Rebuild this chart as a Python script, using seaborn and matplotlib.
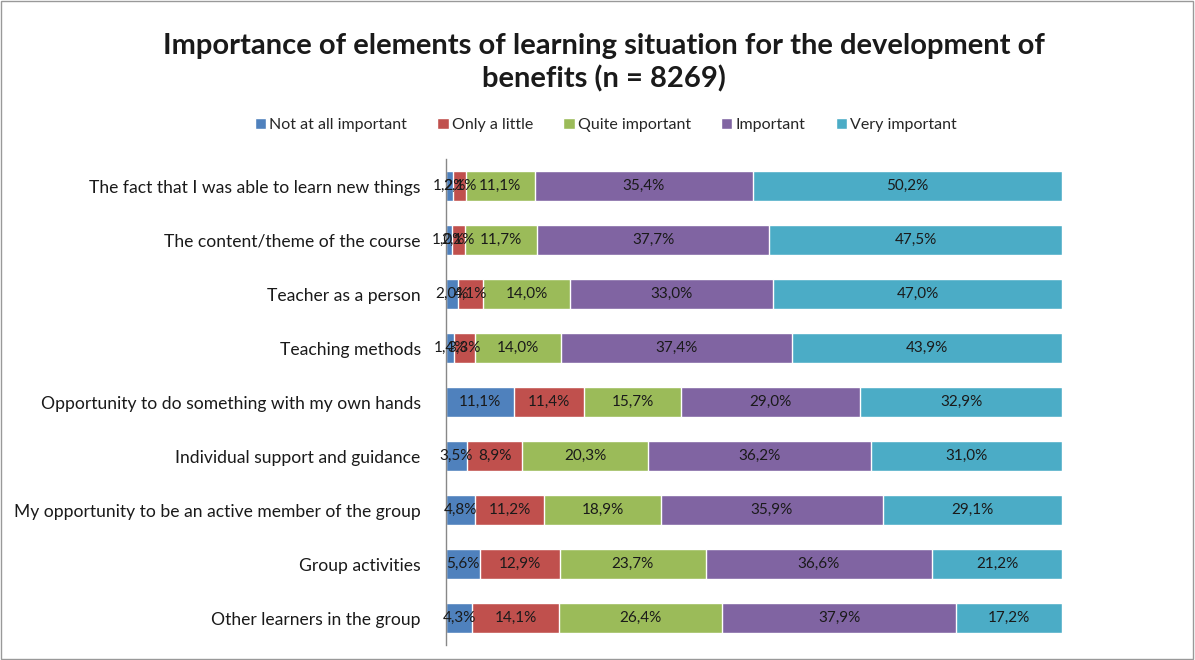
import matplotlib
matplotlib.use("Agg")
import matplotlib.pyplot as plt
import seaborn as sns
import numpy as np
import pandas as pd
from matplotlib.patches import Rectangle

categories = [
    "The fact that I was able to learn new things",
    "The content/theme of the course",
    "Teacher as a person",
    "Teaching methods",
    "Opportunity to do something with my own hands",
    "Individual support and guidance",
    "My opportunity to be an active member of the group",
    "Group activities",
    "Other learners in the group",
]
series_names = ["Not at all important", "Only a little", "Quite important", "Important", "Very important"]
not_at_all = [1.2, 1.0, 2.0, 1.4, 11.1, 3.5, 4.8, 5.6, 4.3]
only_little = [2.1, 2.1, 4.1, 3.3, 11.4, 8.9, 11.2, 12.9, 14.1]
quite = [11.1, 11.7, 14.0, 14.0, 15.7, 20.3, 18.9, 23.7, 26.4]
important = [35.4, 37.7, 33.0, 37.4, 29.0, 36.2, 35.9, 36.6, 37.9]
very = [50.2, 47.5, 47.0, 43.9, 32.9, 31.0, 29.1, 21.2, 17.2]
colors = ["#4F81BD", "#C0504D", "#9BBB59", "#8064A2", "#4BACC6"]

sns.set_theme(style="white")
plt.rcParams["font.family"] = ["Lato", "DejaVu Sans"]

vals = np.array([not_at_all, only_little, quite, important, very])
totals = vals.sum(axis=0)
norm = vals / totals * 100
cum = np.cumsum(norm, axis=0)

fig = plt.figure(figsize=(11.95, 6.6), dpi=100)
ax = fig.add_axes([0.373, 0.0227, 0.516, 0.736])

for i in range(4, -1, -1):
    df = pd.DataFrame({"cat": categories, "val": cum[i]})
    sns.barplot(data=df, y="cat", x="val", orient="h", color=colors[i],
                saturation=1, width=0.55, ax=ax, label=series_names[i])

# labels
for i in range(5):
    start = cum[i] - norm[i]
    for j in range(len(categories)):
        ax.text(start[j] + norm[i][j] / 2, j, f"{vals[i][j]:.1f}%".replace(".", ","),
                ha="center", va="center", fontsize=11, color="#1a1a1a")

ax.set_xlim(0, 100)
ax.set_ylim(8.5, -0.5)
ax.set_xlabel("")
ax.set_ylabel("")
ax.set_xticks([])
for s in ["top", "right", "bottom"]:
    ax.spines[s].set_visible(False)
ax.spines["left"].set_color("#888888")
ax.spines["left"].set_linewidth(1)
ax.tick_params(axis="y", length=0, pad=18, labelsize=12.6, labelcolor="#1a1a1a")

handles, labels = ax.get_legend_handles_labels()
order = [labels.index(n) for n in series_names]
leg = fig.legend([handles[k] for k in order], series_names, loc="center",
                 bbox_to_anchor=(0.507, 0.81), ncol=5, frameon=False, fontsize=11.5,
                 handlelength=0.7, handleheight=0.7, handletextpad=0.2, columnspacing=1.9)
if ax.get_legend():
    ax.get_legend().remove()

fig.text(0.505, 0.905, "Importance of elements of learning situation for the development of\nbenefits (n = 8269)",
         ha="center", va="center", fontsize=21, fontweight="bold", color="#1a1a1a", linespacing=1.25)

fig.patches.append(Rectangle((0.001, 0.001), 0.997, 0.997, transform=fig.transFigure,
                             fill=False, edgecolor="#999999", linewidth=1))

fig.savefig("out.png", dpi=100)
